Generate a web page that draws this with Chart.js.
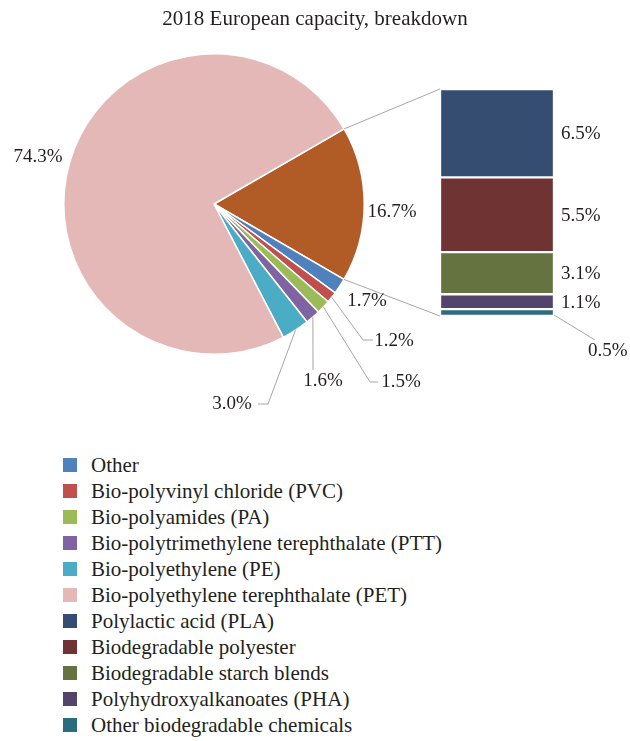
<!DOCTYPE html>
<html>
<head>
<meta charset="utf-8">
<script src="https://cdn.jsdelivr.net/npm/chart.js@4/dist/chart.umd.min.js"></script>
<style>
    body { margin: 0; background: #fff; }
    #wrap { position: relative; width: 630px; height: 741px; overflow: hidden; }
    #title { position: absolute; left: 0; top: 6px; width: 630px; text-align: center; font-family: 'Liberation Serif', serif; font-size: 21px; line-height: 24px; color: #231f20; }
    #pieChart { position: absolute; left: 0; top: 0; }
    #barChart { position: absolute; left: 420px; top: 60px; }
    #legend { position: absolute; left: 63px; top: 452px; font-family: 'Liberation Serif', serif; font-size: 21px; color: #231f20; }
    #legend .item { height: 26px; display: flex; align-items: center; white-space: nowrap; }
    #legend .box { width: 14px; height: 14px; margin-right: 14px; flex: none; }
</style>
</head>
<body>
<div id="wrap">
    <canvas id="pieChart" width="630" height="440"></canvas>
    <canvas id="barChart" width="210" height="320"></canvas>
    <div id="title"></div>
    <div id="legend"></div>
</div>
<script>
const titleText = '2018 European capacity, breakdown';

const pieLabels = [
    'Biodegradable',
    'Other',
    'Bio-polyvinyl chloride (PVC)',
    'Bio-polyamides (PA)',
    'Bio-polytrimethylene terephthalate (PTT)',
    'Bio-polyethylene (PE)',
    'Bio-polyethylene terephthalate (PET)',
];
const pieValues = [16.7, 1.7, 1.2, 1.5, 1.6, 3.0, 74.3];
const pieColors = ['#b15b27', '#4f81bd', '#c0504d', '#9bbb59', '#8064a2', '#4bacc6', '#e4b8b7'];

// bar segments, top to bottom
const barLabels = [
    'Polylactic acid (PLA)',
    'Biodegradable polyester',
    'Biodegradable starch blends',
    'Polyhydroxyalkanoates (PHA)',
    'Other biodegradable chemicals',
];
const barValues = [6.5, 5.5, 3.1, 1.1, 0.5];
const barColors = ['#344d71', '#6e3332', '#657340', '#52446b', '#2d6b7f'];

const textColor = '#231f20';
const lineColor = '#a6a6a6';
const font = "19px 'Liberation Serif', serif";

// label placement per pie slice, relative to the pie centre
const pieLabelSpots = [
    { dx: 178, dy: 8 },
    { dx: 153, dy: 97 },
    { dx: 180, dy: 137, line: [[149, 136], [159, 136]] },
    { dx: 187, dy: 178, line: [[156, 178], [164, 178]] },
    { dx: 109, dy: 177, line: [[99, 166]] },
    { dx: 18, dy: 200, line: [[54, 200], [44, 200]] },
    { dx: -176, dy: -47 },
];

const fmt = (v) => v.toFixed(1) + '%';

document.getElementById('title').textContent = titleText;

// stacked bar: first dataset sits at the bottom
const barDatasets = barValues.map((v, i) => ({
    label: barLabels[i],
    data: [v],
    backgroundColor: barColors[i],
    borderColor: '#ffffff',
    borderWidth: 1.5,
    borderSkipped: false,
    barPercentage: 1,
    categoryPercentage: 1,
})).reverse();

const barLabelPlugin = {
    id: 'barLabels',
    afterDatasetsDraw(chart) {
        const ctx = chart.ctx;
        ctx.save();
        ctx.font = font;
        ctx.fillStyle = textColor;
        ctx.textBaseline = 'middle';
        ctx.textAlign = 'left';
        chart.data.datasets.forEach((ds, i) => {
            const bar = chart.getDatasetMeta(i).data[0];
            const right = bar.x + bar.width / 2;
            const value = ds.data[0];
            if (i === 0) {
                ctx.strokeStyle = lineColor;
                ctx.lineWidth = 1;
                ctx.beginPath();
                ctx.moveTo(right, bar.base - 1);
                ctx.lineTo(right + 41, bar.base + 24);
                ctx.stroke();
                ctx.fillText(fmt(value), right + 34, bar.base + 35);
            } else {
                ctx.fillText(fmt(value), right + 7, (bar.y + bar.base) / 2 + 1);
            }
        });
        ctx.restore();
    },
};

const barChart = new Chart(document.getElementById('barChart'), {
    type: 'bar',
    data: {
        labels: ['Biodegradable'],
        datasets: barDatasets,
    },
    options: {
        responsive: false,
        animation: false,
        layout: { padding: { left: 20, right: 76, top: 29, bottom: 64 } },
        plugins: { legend: { display: false }, tooltip: { enabled: false } },
        scales: {
            x: { display: false, stacked: true },
            y: { display: false, stacked: true, min: 0, max: barValues.reduce((a, b) => a + b, 0) },
        },
    },
    plugins: [barLabelPlugin],
});

const pieLabelPlugin = {
    id: 'pieLabels',
    afterDatasetsDraw(chart) {
        const ctx = chart.ctx;
        const arcs = chart.getDatasetMeta(0).data;
        const cx = arcs[0].x;
        const cy = arcs[0].y;
        const r = arcs[0].outerRadius;
        ctx.save();
        ctx.strokeStyle = lineColor;
        ctx.lineWidth = 1;

        // connectors from the brown slice to the bar
        const top = barChart.getDatasetMeta(barChart.data.datasets.length - 1).data[0];
        const bottom = barChart.getDatasetMeta(0).data[0];
        const ox = barChart.canvas.offsetLeft;
        const oy = barChart.canvas.offsetTop;
        const barLeft = ox + top.x - top.width / 2;
        ctx.beginPath();
        ctx.moveTo(cx + r * Math.cos(arcs[0].startAngle), cy + r * Math.sin(arcs[0].startAngle));
        ctx.lineTo(barLeft, oy + top.y);
        ctx.moveTo(cx + r * Math.cos(arcs[0].endAngle), cy + r * Math.sin(arcs[0].endAngle));
        ctx.lineTo(barLeft, oy + bottom.base);
        ctx.stroke();

        ctx.font = font;
        ctx.fillStyle = textColor;
        ctx.textAlign = 'center';
        ctx.textBaseline = 'middle';
        arcs.forEach((arc, i) => {
            const spot = pieLabelSpots[i];
            if (spot.line) {
                const mid = (arc.startAngle + arc.endAngle) / 2;
                ctx.beginPath();
                ctx.moveTo(cx + r * Math.cos(mid), cy + r * Math.sin(mid));
                spot.line.forEach(([lx, ly]) => ctx.lineTo(cx + lx, cy + ly));
                ctx.stroke();
            }
            ctx.fillText(fmt(pieValues[i]), cx + spot.dx, cy + spot.dy);
        });
        ctx.restore();
    },
};

new Chart(document.getElementById('pieChart'), {
    type: 'pie',
    data: {
        labels: pieLabels,
        datasets: [{
            data: pieValues,
            backgroundColor: pieColors,
            borderColor: '#ffffff',
            borderWidth: 1.5,
        }],
    },
    options: {
        responsive: false,
        animation: false,
        rotation: 60,
        layout: { padding: { left: 63, right: 265, top: 53, bottom: 85 } },
        plugins: {
            legend: { display: false },
            tooltip: { enabled: false },
            title: { display: false },
        },
    },
    plugins: [pieLabelPlugin],
});

const legend = document.getElementById('legend');
pieLabels.slice(1).map((label, i) => [label, pieColors[i + 1]])
    .concat(barLabels.map((label, i) => [label, barColors[i]]))
    .forEach(([label, color]) => {
        const item = document.createElement('div');
        item.className = 'item';
        item.innerHTML = `<span class="box" style="background:${color}"></span><span>${label}</span>`;
        legend.appendChild(item);
    });
</script>
</body>
</html>
